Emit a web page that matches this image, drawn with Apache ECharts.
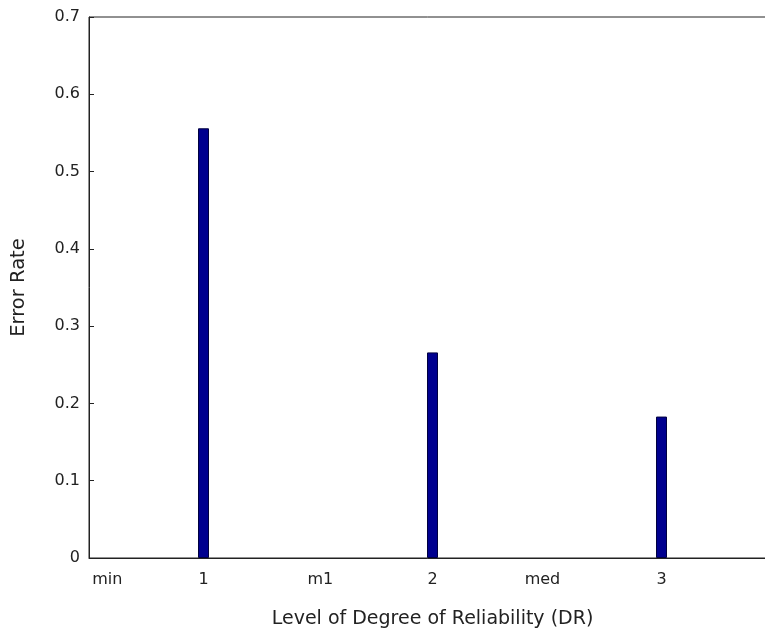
<!DOCTYPE html>
<html><head><meta charset="utf-8">
<script src="https://cdn.jsdelivr.net/npm/echarts@6/dist/echarts.min.js"></script>
<style>html,body{margin:0;padding:0;background:#fff}#c{width:765px;height:630px}</style>
</head><body><div id="c"></div>
<script>
var levels = [1, 2, 3];
var errorRates = [0.556, 0.266, 0.183];
var xTickPositions = [0.58, 1, 1.51, 2, 2.48, 3];
var xTickLabels = ['min', '1', 'm1', '2', 'med', '3'];
var yMin = 0, yMax = 0.7, yStep = 0.1;

var font = 'DejaVu Sans';
var chart = echarts.init(document.getElementById('c'));
chart.setOption({
  animation: false,
  backgroundColor: '#fff',
  grid: { left: 89, right: -11, top: 17, bottom: 72, show: true, borderColor: '#222', borderWidth: 1,
    containLabel: false, outerBoundsMode: 'none' },
  xAxis: {
    type: 'value', min: 0.5, max: 3.5,
    name: 'Level of Degree of Reliability (DR)', nameLocation: 'middle', nameGap: 52,
    nameTextStyle: { fontFamily: font, fontSize: 19, color: '#222' },
    axisLine: { show: true, lineStyle: { color: '#222', width: 1 } },
    axisTick: { show: false },
    splitLine: { show: false },
    axisLabel: {
      customValues: xTickPositions,
      margin: 14, fontFamily: font, fontSize: 16, color: '#222',
      formatter: function (v) {
        var best = 0, d = Infinity;
        for (var i = 0; i < xTickPositions.length; i++) {
          var dd = Math.abs(xTickPositions[i] - v);
          if (dd < d) { d = dd; best = i; }
        }
        return xTickLabels[best];
      }
    }
  },
  yAxis: {
    type: 'value', min: yMin, max: yMax, interval: yStep,
    name: 'Error Rate', nameLocation: 'middle', nameGap: 60, nameRotate: 90,
    nameTextStyle: { fontFamily: font, fontSize: 19.5, color: '#222' },
    axisLine: { show: true, lineStyle: { color: '#222', width: 1 } },
    axisTick: { show: true, inside: true, length: 5, lineStyle: { color: '#222' } },
    splitLine: { show: false },
    axisLabel: { margin: 9, fontFamily: font, fontSize: 16, color: '#222',
      formatter: function (v) { return v === 0 ? '0' : v.toFixed(1); } }
  },
  series: [{
    type: 'bar', barWidth: 11,
    itemStyle: { color: '#00008f', borderColor: '#000040', borderWidth: 1 },
    data: levels.map(function (l, i) { return [l, errorRates[i]]; })
  }]
});
</script></body></html>
